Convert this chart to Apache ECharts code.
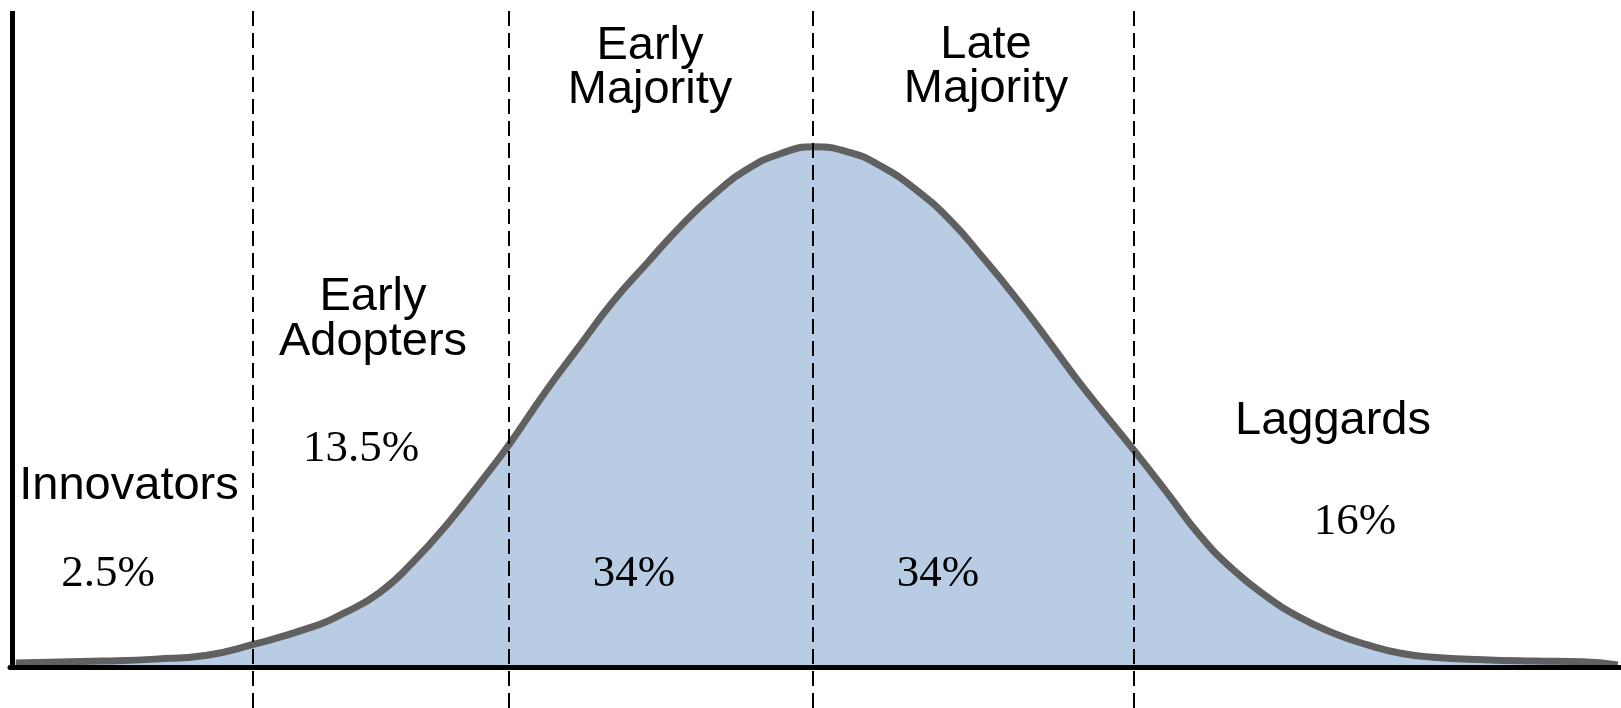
<!DOCTYPE html>
<html>
<head>
<meta charset="utf-8">
<style>
  html, body { margin: 0; padding: 0; background: #ffffff; }
  #chart { width: 1621px; height: 708px; }
</style>
<script src="https://cdn.jsdelivr.net/npm/echarts@6/dist/echarts.min.js"></script>
</head>
<body>
<div id="chart"></div>
<script>
// Adoption curve (x: 0-100 across the axis, y: 0-100 of axis height)
const curveX = [0.2, 5.6, 8.9, 12.1, 14.9, 18.5, 20.6, 22.8, 24.9, 27.1, 29.2, 30.9, 33.2, 35.3, 37.3, 39.5, 41.5, 43.6, 45.7, 47.7, 49.8, 52.1, 54.1, 56.2, 58.3, 60.3, 62.5, 64.5, 66.6, 69.7, 71.8, 73.8, 75.9, 78.0, 80.0, 82.1, 84.2, 86.3, 88.3, 91.4, 94.5, 97.6, 99.8];
const curveY = [0.6, 0.9, 1.2, 1.8, 3.4, 6.0, 8.2, 11.3, 16.0, 22.0, 28.5, 34.0, 42.2, 49.1, 55.6, 61.7, 67.1, 72.0, 75.9, 78.2, 79.3, 78.4, 76.2, 72.7, 68.1, 62.5, 55.9, 49.4, 42.5, 33.1, 26.5, 20.1, 14.8, 10.7, 7.6, 5.2, 3.4, 2.1, 1.5, 1.1, 0.9, 0.8, 0.3];

// Segment boundaries (dashed lines) on the x scale
const boundaries = [14.95, 30.84, 49.74, 69.72];

// Segment names and shares
const segmentNames = [['Innovators'], ['Early', 'Adopters'], ['Early', 'Majority'], ['Late', 'Majority'], ['Laggards']];
const segmentShares = ['2.5%', '13.5%', '34%', '34%', '16%'];

// Annotation layout (pixel positions of label lines and share labels)
const nameLayout = [
  [[129, 486]],
  [[373, 297], [373, 342]],
  [[650, 46], [650, 90]],
  [[986, 45], [986, 89]],
  [[1333, 421]]
];
const shareLayout = [[108, 574], [361, 449], [634, 574], [938, 574], [1355, 522]];

const SANS = "47px 'Liberation Sans', Arial, sans-serif";
const SERIF = "45px 'Liberation Serif', 'Times New Roman', serif";

const graphics = [];
segmentNames.forEach((lines, i) => {
  lines.forEach((t, j) => {
    graphics.push({
      type: 'text', x: nameLayout[i][j][0], y: nameLayout[i][j][1], z: 20,
      style: { text: t, font: SANS, fill: '#000', align: 'center', verticalAlign: 'middle' }
    });
  });
});
segmentShares.forEach((t, i) => {
  graphics.push({
    type: 'text', x: shareLayout[i][0], y: shareLayout[i][1], z: 20,
    style: { text: t, font: SERIF, fill: '#000', align: 'center', verticalAlign: 'middle' }
  });
});

const chart = echarts.init(document.getElementById('chart'), null, { renderer: 'canvas' });
chart.setOption({
  animation: false,
  backgroundColor: '#ffffff',
  grid: { left: 10, right: 0, top: 11, bottom: 0, containLabel: false },
  xAxis: {
    type: 'value', min: -0.155, max: 100, z: 10,
    axisLine: { show: true, onZero: true, lineStyle: { color: '#000', width: 5 } },
    axisTick: { show: false }, axisLabel: { show: false }, splitLine: { show: false }
  },
  yAxis: {
    type: 'value', min: -6.25, max: 100,
    axisLine: { show: false }, axisTick: { show: false }, axisLabel: { show: false }, splitLine: { show: false }
  },
  series: [{
    type: 'line',
    data: curveX.map((x, i) => [x, curveY[i]]),
    smooth: 0.5,
    symbol: 'none',
    clip: false,
    lineStyle: { color: '#606060', width: 7 },
    areaStyle: { color: '#b8cce4', opacity: 1, origin: 0 },
    markLine: {
      silent: true,
      symbol: ['none', 'none'],
      label: { show: false },
      animation: false,
      data: [
        [{ coord: [0, -0.3], lineStyle: { color: '#000', width: 5, type: 'solid' } }, { coord: [0, 100] }],
        ...boundaries.map(b => ({ xAxis: b, lineStyle: { color: '#000', width: 2, type: [15, 7] } }))
      ]
    }
  }],
  graphic: graphics
});
</script>
</body>
</html>
